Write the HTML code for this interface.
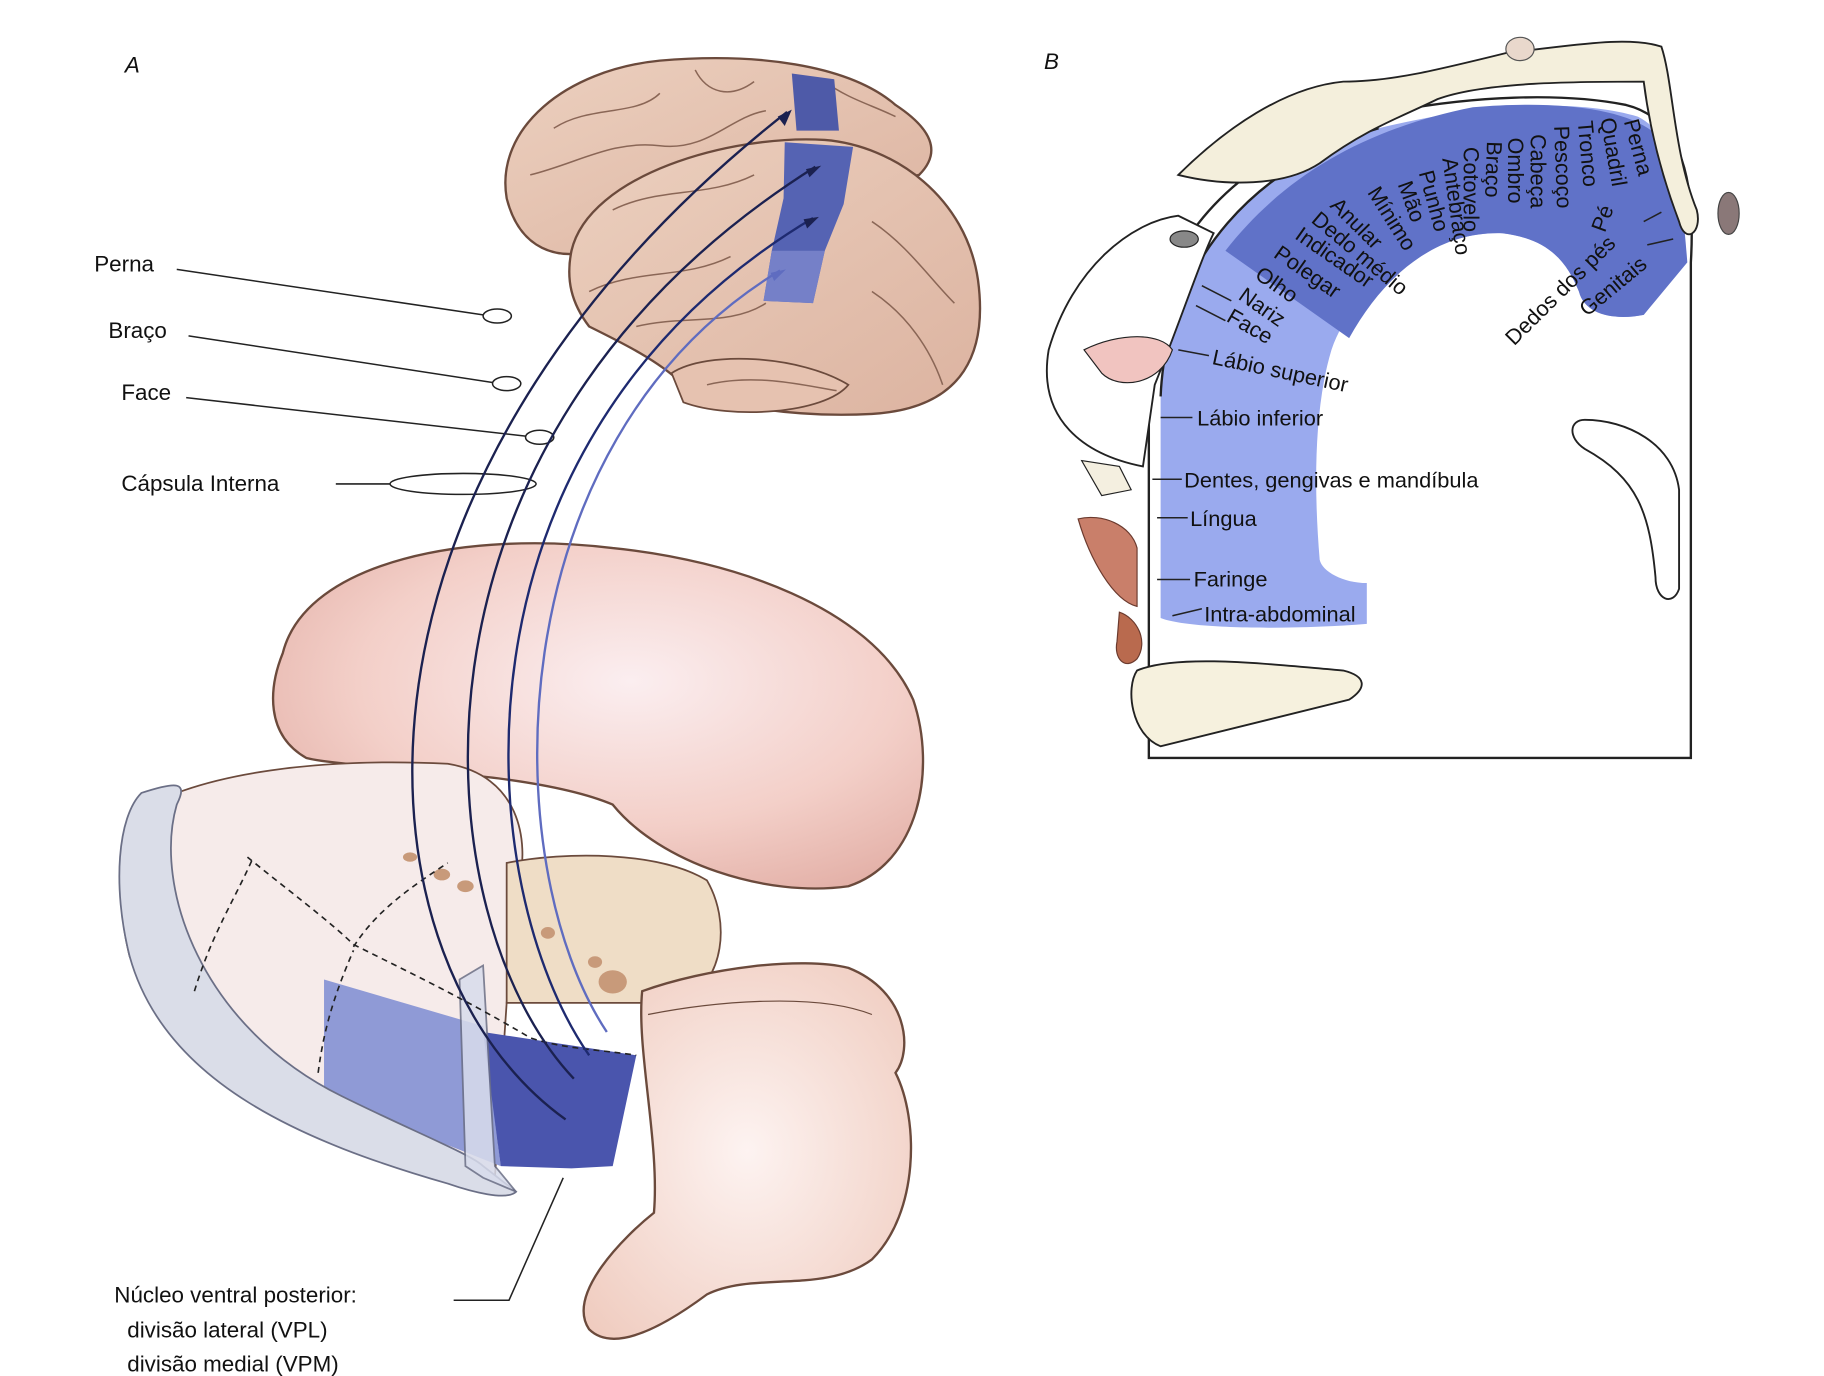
<!DOCTYPE html>
<html><head><meta charset="utf-8"><style>
html,body{margin:0;padding:0;background:#fff;}
svg{display:block;}
text{font-family:"Liberation Sans",sans-serif;fill:#111;}
</style></head><body>
<svg width="1824" height="1376" viewBox="0 0 1548 1180" preserveAspectRatio="none" xmlns="http://www.w3.org/2000/svg">
<defs>
<radialGradient id="pk" cx="0.55" cy="0.4" r="0.7"><stop offset="0" stop-color="#fbeef0"/><stop offset="0.6" stop-color="#f3cfc8"/><stop offset="1" stop-color="#e2aea5"/></radialGradient>
<radialGradient id="pk2" cx="0.5" cy="0.5" r="0.7"><stop offset="0" stop-color="#fdf3f1"/><stop offset="1" stop-color="#efcabd"/></radialGradient>
<linearGradient id="br" x1="0" y1="0" x2="1" y2="1"><stop offset="0" stop-color="#ecd0bf"/><stop offset="1" stop-color="#dcb3a0"/></linearGradient>
</defs>
<rect width="1548" height="1180" fill="#fff"/>
<text x="106" y="62" font-size="19" font-style="italic">A</text>
<text x="886" y="59" font-size="19" font-style="italic">B</text>

<path d="M430,170 C420,110 480,60 560,52 C640,45 720,55 760,90 C790,110 800,130 780,150 L740,160 C700,150 600,170 520,210 C470,230 440,210 430,170Z" fill="url(#br)" stroke="#6b4a3c" stroke-width="2"/>
<path d="M485,215 C500,150 620,115 700,120 C760,125 820,170 830,240 C838,300 820,350 740,355 C680,358 610,350 580,330 C560,310 530,295 500,280 C485,260 480,240 485,215Z" fill="url(#br)" stroke="#6b4a3c" stroke-width="2"/>
<path d="M570,320 C600,300 680,305 720,330 C700,355 620,360 580,345Z" fill="#e6c2b0" stroke="#6b4a3c" stroke-width="1.5"/>
<g stroke="#8a6656" stroke-width="1.3" fill="none">
<path d="M470,110 C500,90 540,100 560,80"/><path d="M450,150 C490,140 520,120 560,125 C600,130 620,100 650,95"/><path d="M520,180 C560,160 600,170 640,150"/><path d="M500,250 C540,230 580,240 620,220"/><path d="M540,280 C580,270 620,280 650,260"/><path d="M740,190 C770,210 790,240 810,260"/><path d="M740,250 C770,270 790,300 800,330"/><path d="M590,60 C600,80 620,85 640,70"/><path d="M700,70 C720,85 740,90 760,100"/><path d="M600,330 C640,320 680,330 710,335"/>
</g>
<path d="M672,63 L708,68 L712,112 L676,112Z" fill="#4e5aa8"/>
<path d="M666,122 L724,126 L716,175 L700,215 L690,260 L648,258 L655,215 L665,170Z" fill="#5563b3"/>
<path d="M655,215 L700,215 L690,260 L648,258Z" fill="#7580c8"/>

<text x="80" y="233" font-size="19">Perna</text>
<text x="92" y="290" font-size="19">Braço</text>
<text x="103" y="343" font-size="19">Face</text>
<text x="103" y="421" font-size="19">Cápsula Interna</text>
<g stroke="#222" stroke-width="1.3" fill="none">
<line x1="150" y1="231" x2="410" y2="270"/><ellipse cx="422" cy="271" rx="12" ry="6"/>
<line x1="160" y1="288" x2="418" y2="328"/><ellipse cx="430" cy="329" rx="12" ry="6"/>
<line x1="158" y1="341" x2="446" y2="374"/><ellipse cx="458" cy="375" rx="12" ry="6"/>
<line x1="285" y1="415" x2="331" y2="415"/><ellipse cx="393" cy="415" rx="62" ry="9"/>
</g>

<path d="M240,560 C260,480 400,455 520,470 C620,480 740,520 775,600 C795,660 780,740 720,760 C650,770 560,740 520,690 C450,660 300,660 260,650 C225,630 228,590 240,560Z" fill="url(#pk)" stroke="#6b4a3c" stroke-width="2"/>
<path d="M110,700 C170,660 280,650 380,655 C440,665 450,720 440,760 L430,860 L420,1010 L300,980 C210,950 140,900 110,820 C100,780 100,730 110,700Z" fill="#f6ebea" stroke="#6b4a3c" stroke-width="1.5"/>
<path d="M275,840 L410,880 L425,1000 L275,940Z" fill="#8f9ad6"/>
<path d="M410,885 L540,905 L520,1000 L485,1002 L425,1000Z" fill="#4a55ad"/>
<path d="M430,740 C480,730 560,730 600,755 C620,790 615,840 580,860 L430,860Z" fill="#efddc6" stroke="#6b4a3c" stroke-width="1.5"/>
<g fill="#c89a7a"><ellipse cx="348" cy="735" rx="6" ry="4"/><ellipse cx="375" cy="750" rx="7" ry="5"/><ellipse cx="395" cy="760" rx="7" ry="5"/><ellipse cx="465" cy="800" rx="6" ry="5"/><ellipse cx="520" cy="842" rx="12" ry="10"/><ellipse cx="505" cy="825" rx="6" ry="5"/></g>
<path d="M120,680 C150,670 160,670 150,690 C130,760 170,880 290,940 C350,970 400,990 410,1000 L438,1022 C430,1030 400,1022 380,1015 C260,980 140,930 110,820 C95,760 100,700 120,680Z" fill="#dadde8" stroke="#6b6f86" stroke-width="1.5"/>
<path d="M390,840 L410,828 L420,1000 L438,1022 L410,1010 L395,1000Z" fill="#d8dcec" stroke="#6b6f86" stroke-width="1.5" opacity="0.85"/>
<g stroke="#222" stroke-width="1.4" fill="none" stroke-dasharray="5,4">
<path d="M210,735 C240,760 280,790 300,810 C360,840 400,860 450,890 C480,900 510,900 540,905"/>
<path d="M165,850 C180,800 200,770 215,735"/><path d="M270,920 C275,880 285,850 300,815"/>
<path d="M300,812 C320,780 350,760 380,740"/>
</g>
<path d="M545,850 C600,830 680,820 720,830 C770,850 775,900 760,920 C780,960 780,1040 740,1080 C700,1110 640,1090 600,1110 C560,1140 520,1160 500,1140 C480,1110 530,1060 555,1040 C560,980 540,900 545,850Z" fill="url(#pk2)" stroke="#6b4a3c" stroke-width="2"/>
<path d="M550,870 C600,860 690,850 740,870" stroke="#6b4a3c" stroke-width="1" fill="none"/>

<g fill="none" stroke-width="2">
<path d="M480,960 C300,830 260,420 668,96" stroke="#1b2150"/>
<path d="M487,925 C360,790 320,380 692,143" stroke="#1b2150"/>
<path d="M500,905 C400,760 370,380 690,187" stroke="#1e2a70"/>
<path d="M515,885 C420,740 420,380 662,232" stroke="#5f6cc0"/>
</g>
<g fill="#1b2150"><path d="M672,94 L660,100 L666,108Z"/><path d="M697,142 L684,145 L687,152Z"/><path d="M695,186 L682,188 L685,196Z"/><path d="M667,231 L654,234 L657,241Z" fill="#5f6cc0"/></g>

<text x="97" y="1117" font-size="19">Núcleo ventral posterior:</text>
<text x="108" y="1147" font-size="19">divisão lateral (VPL)</text>
<text x="108" y="1176" font-size="19">divisão medial (VPM)</text>
<polyline points="385,1115 432,1115 478,1010" fill="none" stroke="#222" stroke-width="1.3"/>

<path d="M975,320 C975,200 1060,130 1160,100 C1250,80 1330,80 1380,90 C1420,100 1440,140 1435,225 L1435,650 L975,650Z" fill="#fff" stroke="#222" stroke-width="2"/>
<path d="M985,530 L985,340 C990,220 1070,140 1170,110 C1260,88 1340,85 1390,100 C1420,115 1428,160 1430,225 L1395,270 C1370,275 1345,270 1340,250 C1330,225 1315,205 1275,200 C1220,198 1150,240 1130,300 C1115,350 1115,420 1120,480 C1122,490 1140,500 1160,500 L1160,535 C1100,540 1010,540 985,530Z" fill="#9aaaee"/>
<path d="M1040,215 C1090,150 1160,110 1250,92 C1330,85 1390,95 1410,120 C1428,160 1430,200 1432,225 L1395,270 C1370,275 1345,270 1340,250 C1330,225 1315,205 1275,200 C1220,198 1175,235 1145,290Z" fill="#6072c8"/>
<path d="M985,340 C990,220 1070,140 1170,110" fill="none" stroke="#222" stroke-width="2"/>
<path d="M1000,150 C1040,110 1090,75 1140,70 C1180,70 1220,60 1280,45 C1330,40 1380,30 1410,40 C1420,70 1420,130 1440,180 C1445,200 1430,210 1425,190 C1410,150 1400,110 1395,70 C1340,70 1260,70 1220,85 C1190,100 1160,110 1120,140 C1090,160 1040,160 1000,150Z" fill="#f4efdc" stroke="#222" stroke-width="1.6"/>
<ellipse cx="1290" cy="42" rx="12" ry="10" fill="#e9d8cc" stroke="#555"/>
<ellipse cx="1467" cy="183" rx="9" ry="18" fill="#8a7878" stroke="#444"/>
<path d="M1000,185 C960,190 910,230 890,300 C880,360 920,390 970,400 L980,330 C1000,280 1020,220 1030,200Z" fill="#fff" stroke="#222" stroke-width="1.6"/>
<ellipse cx="1005" cy="205" rx="12" ry="7" fill="#888" stroke="#222"/>
<path d="M920,300 C950,285 985,285 995,300 C985,330 950,335 935,320Z" fill="#f1c4c0" stroke="#222"/>
<path d="M918,395 L950,400 L960,420 L935,425 Z" fill="#f4efe0" stroke="#222"/>
<path d="M915,445 C935,440 960,450 965,470 L965,520 C945,515 925,480 915,445Z" fill="#c97f6a" stroke="#6b3a2e"/>
<path d="M950,525 C965,530 975,550 965,565 C955,575 945,565 948,550Z" fill="#b96a4e" stroke="#6b3a2e"/>
<path d="M965,575 C1000,560 1080,570 1140,575 C1160,580 1160,590 1145,600 L985,640 C960,630 955,590 965,575Z" fill="#f6f1de" stroke="#222" stroke-width="1.6"/>
<path d="M1345,360 C1380,360 1420,380 1425,420 L1425,505 C1420,520 1405,515 1405,495 C1400,440 1390,410 1345,385 C1330,375 1332,360 1345,360Z" fill="#fff" stroke="#222" stroke-width="1.6"/>

<g font-size="18.5">
<text transform="translate(1378,104) rotate(75)">Perna</text>
<text transform="translate(1358,102) rotate(80)">Quadril</text>
<text transform="translate(1339,104) rotate(85)">Tronco</text>
<text transform="translate(1319,108) rotate(88)">Pescoço</text>
<text transform="translate(1299,115) rotate(90)">Cabeça</text>
<text transform="translate(1280,118) rotate(90)">Ombro</text>
<text transform="translate(1262,121) rotate(92)">Braço</text>
<text transform="translate(1242,126) rotate(90)">Cotovelo</text>
<text transform="translate(1224,136) rotate(82)">Antebraço</text>
<text transform="translate(1204,148) rotate(75)">Punho</text>
<text transform="translate(1186,158) rotate(70)">Mão</text>
<text transform="translate(1160,165) rotate(58)">Mínimo</text>
<text transform="translate(1128,177) rotate(45)">Anular</text>
<text transform="translate(1112,190) rotate(40)">Dedo médio</text>
<text transform="translate(1098,204) rotate(35)">Indicador</text>
<text transform="translate(1080,220) rotate(35)">Polegar</text>
<text transform="translate(1064,238) rotate(35)">Olho</text>
<text transform="translate(1050,256) rotate(35)">Nariz</text>
<text transform="translate(1040,275) rotate(30)">Face</text>
<text transform="translate(1028,312) rotate(12)">Lábio superior</text>
<text x="1016" y="365">Lábio inferior</text>
<text x="1005" y="418">Dentes, gengivas e mandíbula</text>
<text x="1010" y="451">Língua</text>
<text x="1013" y="503">Faringe</text>
<text x="1022" y="533">Intra-abdominal</text>
<text transform="translate(1362,200) rotate(-70)">Pé</text>
<text transform="translate(1285,297) rotate(-45)">Dedos dos pés</text>
<text transform="translate(1347,272) rotate(-40)">Genitais</text>
</g>
<g stroke="#222" stroke-width="1.3">
<line x1="985" y1="358" x2="1012" y2="358"/><line x1="978" y1="411" x2="1003" y2="411"/><line x1="982" y1="444" x2="1008" y2="444"/><line x1="982" y1="497" x2="1010" y2="497"/><line x1="995" y1="528" x2="1020" y2="522"/>
<line x1="1000" y1="300" x2="1026" y2="305"/><line x1="1015" y1="262" x2="1040" y2="275"/><line x1="1020" y1="245" x2="1045" y2="258"/>
<line x1="1395" y1="190" x2="1410" y2="182"/><line x1="1398" y1="210" x2="1420" y2="205"/>
</g>
</svg>
</body></html>
